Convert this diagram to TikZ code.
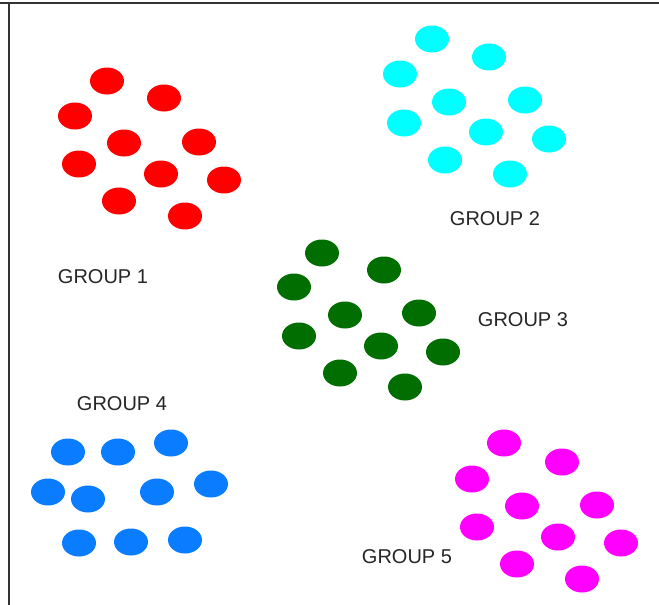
\documentclass[tikz,border=0pt]{standalone}
\usepackage{fontspec}
\setmainfont{Liberation Sans}
\definecolor{cred}{HTML}{FF0000}
\definecolor{ccyan}{HTML}{00FFFF}
\definecolor{cgreen}{HTML}{006E00}
\definecolor{cblue}{HTML}{0A7CFF}
\definecolor{cmag}{HTML}{FF00FF}
\definecolor{cframe}{HTML}{333333}
\tikzset{
  dot/.style={ellipse, minimum width=34pt, minimum height=27pt, inner sep=0pt, fill=#1},
  grouplabel/.style={font=\fontsize{20}{23}\selectfont, text=black!85, inner sep=0pt}
}
\usetikzlibrary{shapes.geometric}
\begin{document}
\begin{tikzpicture}[x=1pt,y=-1pt]
\useasboundingbox (0,0) rectangle (659,605);
\fill[white] (0,0) rectangle (659,605);
\draw[cframe, line width=2pt] (0,2.5) -- (659,2.5);
\draw[cframe, line width=1.6pt] (9,2.5) -- (9,605);
% group 1
\foreach \x/\y [count=\i] in {107/81,164/98,75/116,124/143,199/142,79/164,161/174,224/180,119/201,185/216}
  \node[dot=cred] (r\i) at (\x,\y) {};
% group 2
\foreach \x/\y [count=\i] in {432/39,489/57,400/74,449/102,525/100,404/123,486/132,549/139,445/160,510/174}
  \node[dot=ccyan] (c\i) at (\x,\y) {};
% group 3
\foreach \x/\y [count=\i] in {322/253,384/270,294/287,345/315,419/313,299/336,381/346,443/352,340/373,405/387}
  \node[dot=cgreen] (g\i) at (\x,\y) {};
% group 4
\foreach \x/\y [count=\i] in {68/452,118/452,171/443,48/492,88/499,157/492,211/484,79/543,131/542,185/540}
  \node[dot=cblue] (b\i) at (\x,\y) {};
% group 5
\foreach \x/\y [count=\i] in {504/443,562/462,472/479,522/506,597/505,477/527,558/537,621/543,517/564,582/579}
  \node[dot=cmag] (m\i) at (\x,\y) {};
\node[grouplabel] (l1) at (103,277) {GROUP 1};
\node[grouplabel] (l2) at (495,219) {GROUP 2};
\node[grouplabel] (l3) at (523,320) {GROUP 3};
\node[grouplabel] (l4) at (122,404) {GROUP 4};
\node[grouplabel] (l5) at (407,557) {GROUP 5};
\end{tikzpicture}
\end{document}
